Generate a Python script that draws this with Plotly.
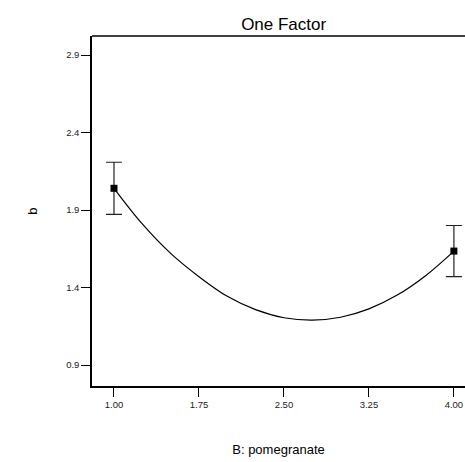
import plotly.graph_objects as go

# Design points (B: pomegranate) with means and error half-widths
pt_x = [1.00, 4.00]
pt_y = [2.04, 1.635]
pt_err = [0.168, 0.165]

# Predicted response curve
curve_x = [1.00, 1.25, 1.50, 1.75, 2.00, 2.25, 2.50, 2.75, 3.00, 3.25, 3.50, 3.75, 4.00]
curve_y = [2.04, 1.81, 1.62, 1.47, 1.343, 1.257, 1.205, 1.189, 1.208, 1.262, 1.351, 1.476, 1.635]

x_ticks = [1.00, 1.75, 2.50, 3.25, 4.00]
x_tick_text = ["1.00", "1.75", "2.50", "3.25", "4.00"]
y_ticks = [0.9, 1.4, 1.9, 2.4, 2.9]
y_tick_text = ["0.9", "1.4", "1.9", "2.4", "2.9"]

fig = go.Figure()
fig.add_trace(go.Scatter(x=curve_x, y=curve_y, mode="lines", line=dict(color="black", width=1.2, shape="spline"),
                         hoverinfo="skip", showlegend=False))
fig.add_trace(go.Scatter(x=pt_x, y=pt_y, mode="markers",
                         marker=dict(symbol="square", size=7, color="black"),
                         error_y=dict(type="data", array=pt_err, color="#222", thickness=1.2, width=8),
                         showlegend=False))

# top border of the plot box (right side is cut off in the original)
fig.add_shape(type="line", xref="paper", yref="paper", x0=0, x1=1.0, y0=1, y1=1,
              line=dict(color="black", width=1.5))

fig.update_layout(
    width=465, height=462,
    margin=dict(l=92, r=0, t=36, b=76),
    paper_bgcolor="white", plot_bgcolor="white",
    font=dict(family="Liberation Sans, Arial", color="black"),
    title=dict(text="One Factor", x=0.61, xanchor="center", y=0.949, yanchor="middle",
               font=dict(size=17, color="black")),
    xaxis=dict(range=[0.806, 4.098], tickvals=x_ticks, ticktext=x_tick_text,
               showline=True, linecolor="black", linewidth=1.5, mirror=False,
               ticks="outside", ticklen=9, tickcolor="black", tickwidth=1.2,
               showgrid=False, zeroline=False,
               tickfont=dict(size=9.5, color="#222"),
               title=dict(text="B: pomegranate", font=dict(size=13), standoff=36)),
    yaxis=dict(range=[0.7645, 3.0226], tickvals=y_ticks, ticktext=y_tick_text,
               showline=True, linecolor="black", linewidth=1.5, mirror=False,
               ticks="outside", ticklen=9, tickcolor="black", tickwidth=1.2,
               showgrid=False, zeroline=False,
               tickfont=dict(size=9.5, color="#222"),
               title=dict(text="b", font=dict(size=13), standoff=26)),
)

fig.write_html("out.html")
